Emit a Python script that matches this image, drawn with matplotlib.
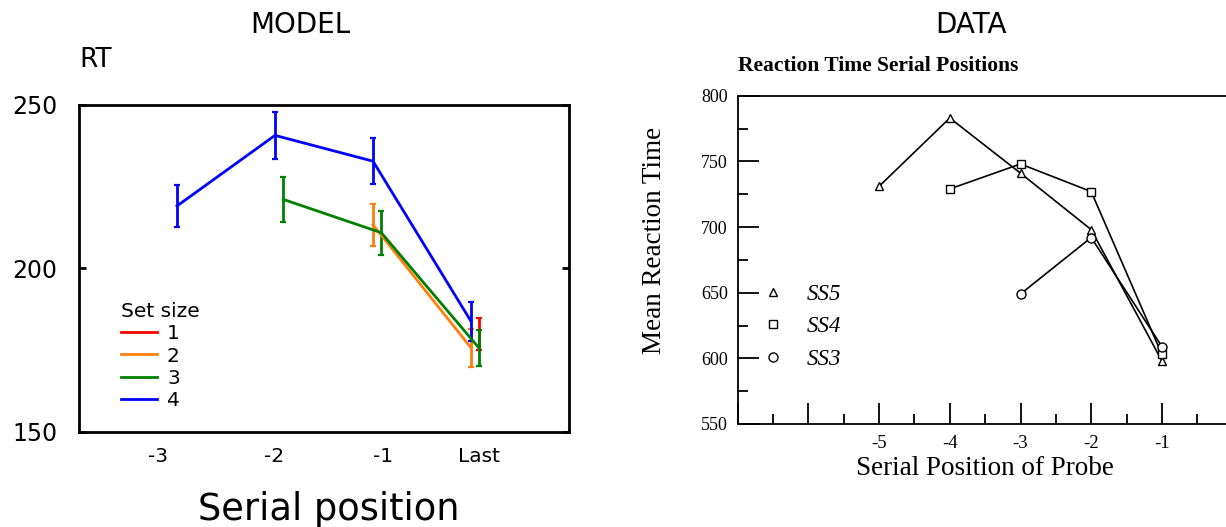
import matplotlib
matplotlib.use("Agg")
import matplotlib.pyplot as plt
import numpy as np
from matplotlib.lines import Line2D
from matplotlib.ticker import FixedLocator

# MODEL panel: simulated RT per serial position, one series per set size
positions = ["-3", "-2", "-1", "Last"]
set_sizes = ["1", "2", "3", "4"]
model_x = [[3], [2, 3], [1, 2, 3], [0, 1, 2, 3]]
model_rt = [[180.0],
            [213.3, 175.7],
            [221.1, 210.9, 175.5],
            [219.1, 240.7, 232.8, 183.8]]
model_err = [[4.9],
             [6.4, 5.8],
             [7.0, 6.7, 5.5],
             [6.5, 7.2, 7.1, 5.9]]

# DATA panel: mean reaction time by serial position of probe
data_labels = ["SS5", "SS4", "SS3"]
data_x = [[-5, -4, -3, -2, -1], [-4, -3, -2, -1], [-3, -2, -1]]
data_rt = [[731, 783, 741, 698, 598],
           [729, 748, 727, 603],
           [649, 692, 609]]

W, H = 1226, 527  # figure size in pixels


def plot_model(ax):
    """Left panel: model RT with error bars."""
    colors = ["red", "#ff7f0e", "green", "blue"]
    dodge = [0.085, 0.0, 0.085, 0.0]  # small horizontal shift per set size
    handles = []
    for i in range(len(set_sizes)):
        xs = np.array(model_x[i]) + dodge[i]
        eb = ax.errorbar(xs, model_rt[i], yerr=model_err[i], color=colors[i],
                         lw=2, elinewidth=2, capsize=2, capthick=1.6)
        handles.append(eb[0])

    ax.set_xlim(-1, 4)
    ax.set_ylim(150, 250)
    ax.set_xticks([-0.19, 0.99, 2.1, 3.08], positions)
    ax.set_yticks([150, 200, 250])
    ax.tick_params(axis="x", length=0, labelsize=14.5, pad=11)
    ax.tick_params(axis="y", direction="in", length=5, width=2, right=True,
                   labelsize=17, pad=15.5)
    for s in ax.spines.values():
        s.set_linewidth(2)

    ax.set_title("MODEL", fontsize=20, x=0.451, y=1.2213, pad=0)
    ax.set_ylabel("RT", rotation=0, fontsize=19, ha="left", va="baseline")
    ax.yaxis.set_label_coords(0.0, 1.1175)
    ax.set_xlabel("Serial position", fontsize=26.5, va="baseline")
    ax.xaxis.set_label_coords(0.509, -0.270)

    ax.legend(handles=handles, labels=set_sizes, title="Set size",
              loc="upper left", bbox_to_anchor=(0.085, 0.398),
              frameon=False, fontsize=14.5, title_fontsize=14.5,
              handlelength=1.8, handletextpad=0.5, labelspacing=0.17,
              borderpad=0, borderaxespad=0, alignment="left")


def plot_data(ax):
    """Right panel: the empirical data, in the style of the scanned figure."""
    serif = "Liberation Serif"
    markers = ["^", "s", "o"]
    msizes = [5.5, 6, 6.5]
    proxies = []
    for i in range(len(data_labels)):
        ax.plot(data_x[i], data_rt[i], color="black", lw=1.2,
                marker=markers[i], ms=msizes[i], mfc="white", mec="black",
                mew=1.0)
        proxies.append(Line2D([], [], ls="none", marker=markers[i],
                              ms=msizes[i], mfc="white", mec="black",
                              mew=1.0))

    ax.set_xlim(-7, 0)
    ax.set_ylim(550, 800)
    ax.xaxis.set_major_locator(FixedLocator(np.arange(-7, 1)))
    ax.xaxis.set_minor_locator(FixedLocator(np.arange(-6.5, 0, 1)))
    ax.set_xticklabels(["", "", "-5", "-4", "-3", "-2", "-1", ""])
    ax.yaxis.set_major_locator(FixedLocator(np.arange(550, 801, 50)))
    ax.yaxis.set_minor_locator(FixedLocator(np.arange(575, 800, 50)))
    ax.tick_params(which="major", direction="in", length=15, width=1.3)
    ax.tick_params(which="minor", direction="in", length=7.5, width=1.3)
    ax.tick_params(axis="x", labelsize=13.5, pad=8)
    ax.tick_params(axis="y", labelsize=13, pad=7)
    for lab in ax.get_xticklabels() + ax.get_yticklabels():
        lab.set_family(serif)
    for s in ax.spines.values():
        s.set_linewidth(1.3)

    ax.set_title("DATA", fontsize=20, x=0.4706, y=1.192, pad=0)
    ax.set_title("Reaction Time Serial Positions", loc="left", y=1.076,
                 pad=0, fontsize=15.5, fontweight="bold", family=serif)
    ax.set_ylabel("Mean Reaction Time", fontsize=19.5, family=serif)
    ax.yaxis.set_label_coords(-0.143, 0.5605)
    ax.set_xlabel("Serial Position of Probe", fontsize=19.5, family=serif,
                  va="baseline")
    ax.xaxis.set_label_coords(0.4997, -0.1553)

    ax.legend(handles=proxies, labels=data_labels, loc="upper left",
              bbox_to_anchor=(0.0477, 0.428), frameon=False,
              prop={"family": serif, "style": "italic", "size": 16.5},
              handlelength=1.0, handletextpad=1.0, labelspacing=0.52,
              borderpad=0, borderaxespad=0)


def main():
    fig = plt.figure(figsize=(W / 100, H / 100), dpi=100)
    ax1 = fig.add_axes([79 / W, 1 - 431.7 / H, 490 / W, 326.7 / H])
    ax2 = fig.add_axes([737.7 / W, 1 - 424 / H, 494.9 / W, 328.3 / H])
    plot_model(ax1)
    plot_data(ax2)
    fig.savefig("out.png", dpi=100)


if __name__ == '__main__':
    main()
